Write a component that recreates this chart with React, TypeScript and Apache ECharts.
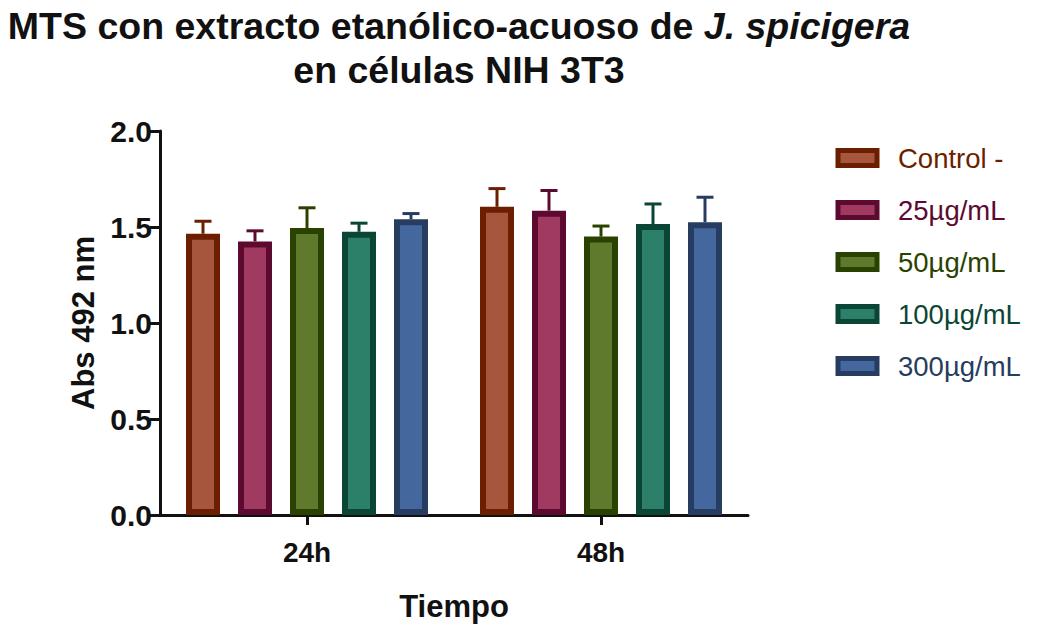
import React, { useEffect, useRef } from "react";
import * as echarts from "echarts";

const categories = ["24h", "48h"];
const seriesNames = ["Control -", "25µg/mL", "50µg/mL", "100µg/mL", "300µg/mL"];
const controlMean = [1.465, 1.605];
const c25Mean = [1.425, 1.585];
const c50Mean = [1.495, 1.45];
const c100Mean = [1.475, 1.515];
const c300Mean = [1.54, 1.525];
const controlErr = [0.065, 0.095];
const c25Err = [0.055, 0.105];
const c50Err = [0.105, 0.055];
const c100Err = [0.045, 0.105];
const c300Err = [0.03, 0.13];
const yTicks = [0, 0.5, 1.0, 1.5, 2.0];

const fills = ["#A5563C", "#A03A60", "#5F7A2C", "#2C806A", "#44689E"];
const borders = ["#6B1F00", "#5C0A30", "#2A4200", "#0A4535", "#263C60"];

const FONT = "'Liberation Sans', Arial, sans-serif";

export default function App() {
  const ref = useRef<HTMLDivElement>(null);
  useEffect(() => {
    if (!ref.current) return;
    const chart = echarts.init(ref.current, null, { renderer: "svg" });
    const means = [controlMean, c25Mean, c50Mean, c100Mean, c300Mean];
    const errs = [controlErr, c25Err, c50Err, c100Err, c300Err];
    const barW = 34;
    const gap = 18;
    const errData: any[] = [];
    means.forEach((m, si) => {
      m.forEach((v, ci) => {
        errData.push([ci, si, v, v + errs[si][ci]]);
      });
    });
    const barSeries = seriesNames.map((name, i) => ({
      name,
      type: "bar",
      data: means[i],
      barWidth: barW,
      barGap: (gap / barW) * 100 + "%",
      itemStyle: { color: fills[i], borderColor: borders[i], borderWidth: 6 },
      z: 2,
    }));
    const option: any = {
      animation: false,
      title: {
        text: "{a|MTS con extracto etanólico-acuoso de }{b|J. spicigera}\n{a|en células NIH 3T3}",
        left: 459,
        top: 4,
        padding: 0,
        textAlign: "center",
        textStyle: {
          rich: {
            a: { fontFamily: FONT, fontWeight: "bold", fontSize: 37.5, color: "#111", lineHeight: 44 },
            b: { fontFamily: FONT, fontWeight: "bold", fontStyle: "italic", fontSize: 37.5, color: "#111", lineHeight: 44 },
          },
        },
      },
      legend: {
        left: 835.5,
        top: 144,
        padding: 0,
        orient: "vertical",
        itemWidth: 39,
        itemHeight: 15,
        itemGap: 24,
        icon: "rect",
        data: seriesNames.map((n, i) => ({
          name: n,
          textStyle: { color: borders[i] },
          itemStyle: { color: fills[i], borderColor: borders[i], borderWidth: 5 },
        })),
        textStyle: { fontFamily: FONT, fontSize: 27.5, lineHeight: 28, padding: [0, 0, 0, 16] },
      },
      grid: { left: 160, right: 291, top: 131, bottom: 111, containLabel: false },
      xAxis: {
        type: "category",
        data: categories,
        axisLine: { show: true, lineStyle: { color: "#111", width: 3 } },
        axisTick: { show: true, alignWithLabel: true, length: 10, lineStyle: { color: "#111", width: 3 } },
        axisLabel: { fontFamily: FONT, fontWeight: "bold", fontSize: 28, color: "#111", margin: 23 },
        name: "Tiempo",
        nameLocation: "middle",
        nameGap: 76,
        nameTextStyle: { fontFamily: FONT, fontWeight: "bold", fontSize: 31, color: "#111" },
      },
      yAxis: {
        type: "value",
        min: 0,
        max: 2,
        interval: 0.5,
        splitLine: { show: false },
        axisLine: { show: true, lineStyle: { color: "#111", width: 3 } },
        axisTick: { show: true, length: 10, lineStyle: { color: "#111", width: 3 } },
        axisLabel: {
          fontFamily: FONT,
          fontWeight: "bold",
          fontSize: 30,
          color: "#111",
          margin: 8,
          formatter: (v: number) => (yTicks.includes(v) ? v.toFixed(1) : ""),
        },
        name: "Abs 492 nm",
        nameLocation: "middle",
        nameGap: 60,
        nameTextStyle: { fontFamily: FONT, fontWeight: "bold", fontSize: 31, color: "#111" },
      },
      series: [
        ...barSeries,
        {
          type: "custom",
          name: "err",
          data: errData,
          encode: { x: 0, y: 3 },
          z: 1,
          silent: true,
          renderItem: (params: any, api: any) => {
            const ci = api.value(0);
            const si = api.value(1);
            const m = api.value(2);
            const top = api.value(3);
            const base = api.coord([ci, m]);
            const t = api.coord([ci, top]);
            const x = base[0] + (si - 2) * (barW + gap);
            const col = borders[si];
            const cap = 8.5;
            return {
              type: "group",
              children: [
                { type: "line", shape: { x1: x, y1: base[1], x2: x, y2: t[1] }, style: { stroke: col, lineWidth: 3 } },
                { type: "line", shape: { x1: x - cap, y1: t[1], x2: x + cap, y2: t[1] }, style: { stroke: col, lineWidth: 3 } },
              ],
            };
          },
        },
      ],
    };
    chart.setOption(option);
    return () => chart.dispose();
  }, []);
  return <div ref={ref} style={{ width: 1039, height: 627, position: "absolute", left: 0, top: 0 }} />;
}
